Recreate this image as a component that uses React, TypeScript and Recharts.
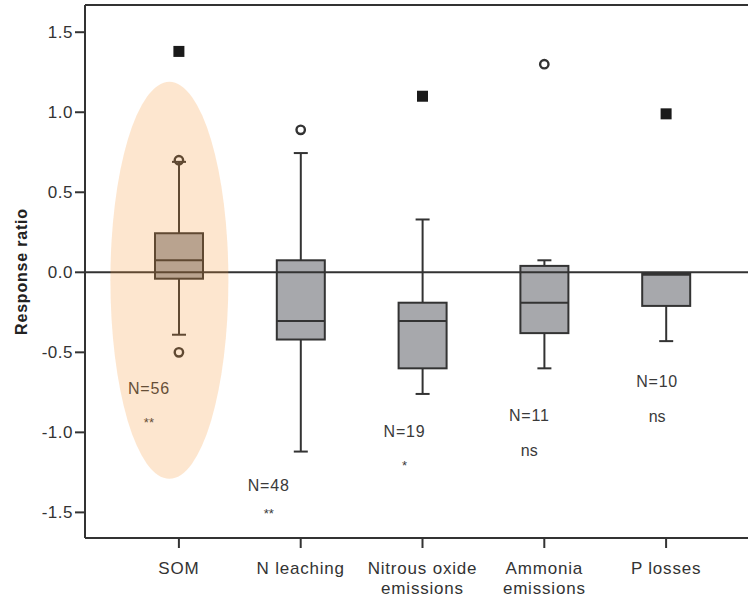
import React from "react"
import {
    ComposedChart,
    XAxis,
    YAxis,
    Bar,
    Line,
    ReferenceLine,
    ReferenceArea
} from "recharts"

// categories and box statistics
const categories = ["SOM", "N leaching", "Nitrous oxide\nemissions", "Ammonia\nemissions", "P losses"]
const whiskerLow = [-0.39, -1.12, -0.76, -0.60, -0.43]
const q1 = [-0.04, -0.42, -0.60, -0.38, -0.21]
const median = [0.075, -0.305, -0.305, -0.19, -0.01]
const q3 = [0.244, 0.075, -0.19, 0.04, -0.01]
const whiskerHigh = [0.69, 0.745, 0.33, 0.075, -0.01]
const outlierHigh = [0.70, 0.89, null, 1.30, null]
const outlierLow = [-0.50, null, null, null, null]
const extremes = [1.38, null, 1.10, null, 0.99]
const nText = ["N=56", "N=48", "N=19", "N=11", "N=10"]
const nY = [-0.725, -1.33, -0.99, -0.89, -0.68]
const sigText = ["**", "**", "*", "ns", "ns"]
const sigY = [-0.91, -1.48, -1.18, -1.12, -0.91]
const yTicks = [-1.5, -1.0, -0.5, 0, 0.5, 1.0, 1.5]
const yDomain = [-1.66, 1.67]
const highlight = { cat: "SOM", low: -1.29, high: 1.19 }

// layout bits
const FONT = "'Liberation Sans', Arial, sans-serif"
const INK = "#333333"
const BOX_W = 48
const CAP_W = 14
const LABEL_DX = [-30, -32, -18, -15, -9]

const data = categories.map((name, i) => ({
    name,
    box: [whiskerLow[i], whiskerHigh[i]],
    lo: whiskerLow[i],
    q1: q1[i],
    med: median[i],
    q3: q3[i],
    hi: whiskerHigh[i],
    circ: outlierHigh[i],
    circLow: outlierLow[i],
    sq: extremes[i],
    nY: nY[i],
    nText: nText[i],
    sigY: sigY[i],
    sig: sigText[i]
}))

function BoxShape(props: any) {
    const { x, y, width, height, payload } = props
    const top = Math.min(y, y + height)
    const h = Math.abs(height)
    const { lo, hi } = payload
    const k = h / (hi - lo)
    const py = (v: number) => top + (hi - v) * k
    const cx = x + width / 2
    const s = { stroke: INK, strokeWidth: 2 }
    return (
        <g>
            {hi > payload.q3 && <line x1={cx} x2={cx} y1={py(hi)} y2={py(payload.q3)} {...s} />}
            {hi > payload.q3 && <line x1={cx - CAP_W / 2} x2={cx + CAP_W / 2} y1={py(hi)} y2={py(hi)} {...s} />}
            <line x1={cx} x2={cx} y1={py(payload.q1)} y2={py(lo)} {...s} />
            <line x1={cx - CAP_W / 2} x2={cx + CAP_W / 2} y1={py(lo)} y2={py(lo)} {...s} />
            <rect x={cx - BOX_W / 2} y={py(payload.q3)} width={BOX_W} height={py(payload.q1) - py(payload.q3)} fill="#a7a8ac" {...s} />
            <line x1={cx - BOX_W / 2} x2={cx + BOX_W / 2} y1={py(payload.med)} y2={py(payload.med)} {...s} strokeWidth={payload.med === payload.q3 ? 3.5 : 2} />
        </g>
    )
}

const circleDot = (props: any) => {
    const { cx, cy, value, index } = props
    if (value == null) return <g key={index} />
    return <circle key={index} cx={cx} cy={cy} r={4.2} fill="none" stroke={INK} strokeWidth={2.4} />
}

const squareDot = (props: any) => {
    const { cx, cy, value, index } = props
    if (value == null) return <g key={index} />
    return <rect key={index} x={cx - 5.5} y={cy - 5.5} width={11} height={11} fill="#1a1a1a" />
}

const nDot = (props: any) => {
    const { cx, cy, index, payload } = props
    return (
        <text key={index} x={cx + LABEL_DX[index]} y={cy} dy={6} textAnchor="middle" letterSpacing={0.8}
            fontSize={16} fontFamily={FONT} fill="#3a3a3a">{payload.nText}</text>
    )
}

const sigDot = (props: any) => {
    const { cx, cy, index, payload } = props
    const star = payload.sig.includes("*")
    return (
        <text key={index} x={cx + LABEL_DX[index]} y={cy} dy={star ? 9 : 4} textAnchor="middle"
            fontSize={star ? 13 : 16} fontFamily={FONT} fill="#3a3a3a">{payload.sig}</text>
    )
}

function CatTick(props: any) {
    const { x, y, payload } = props
    const lines = String(payload.value).split("\n")
    return (
        <text x={x} y={y} textAnchor="middle" fontSize={17} letterSpacing={0.8} fontFamily={FONT} fill={INK}>
            {lines.map((l, i) => (
                <tspan key={i} x={x} dy={i === 0 ? 24 : 20}>{l}</tspan>
            ))}
        </text>
    )
}

export default function App() {
    return (
        <div style={{ position: "absolute", left: 0, top: 0, background: "#fff" }}>
            <ComposedChart width={748} height={597} data={data}
                margin={{ top: 5, right: 0, bottom: 0, left: 0 }}>
                <XAxis dataKey="name" height={59} tickSize={10} tick={<CatTick />}
                    padding={{ left: 33, right: 21 }} interval={0}
                    axisLine={{ stroke: INK, strokeWidth: 2 }} tickLine={{ stroke: INK, strokeWidth: 2 }} />
                <YAxis width={85} domain={yDomain} ticks={yTicks} allowDataOverflow
                    tickFormatter={(v: number) => v.toFixed(1)} tickSize={10}
                    tick={{ fontSize: 17, fontFamily: FONT, fill: INK, letterSpacing: 0.5 }}
                    axisLine={{ stroke: INK, strokeWidth: 2 }} tickLine={{ stroke: INK, strokeWidth: 2 }}
                    label={{ value: "Response ratio", angle: -90, position: "insideLeft", offset: 21,
                        style: { textAnchor: "middle", fontSize: 16, fontWeight: "bold", fontFamily: FONT, fill: "#222", letterSpacing: 0.8 } }} />
                <Bar dataKey="box" barSize={BOX_W} shape={<BoxShape />} isAnimationActive={false} />
                <ReferenceLine y={0} stroke={INK} strokeWidth={2} />
                <ReferenceLine y={yDomain[1]} stroke={INK} strokeWidth={2} />
                <Line dataKey="circ" stroke="none" dot={circleDot} activeDot={false} isAnimationActive={false} />
                <Line dataKey="circLow" stroke="none" dot={circleDot} activeDot={false} isAnimationActive={false} />
                <Line dataKey="sq" stroke="none" dot={squareDot} activeDot={false} isAnimationActive={false} />
                <Line dataKey="nY" stroke="none" dot={nDot} activeDot={false} isAnimationActive={false} />
                <Line dataKey="sigY" stroke="none" dot={sigDot} activeDot={false} isAnimationActive={false} />
                <ReferenceArea x1={highlight.cat} x2={highlight.cat} y1={highlight.low} y2={highlight.high}
                    zIndex={2000}
                    shape={(p: any) => (
                        <ellipse cx={p.x + p.width / 2 - 9.5} cy={p.y + p.height / 2} rx={59} ry={p.height / 2}
                            fill="#f89230" fillOpacity={0.23} />
                    )} />
            </ComposedChart>
        </div>
    )
}
